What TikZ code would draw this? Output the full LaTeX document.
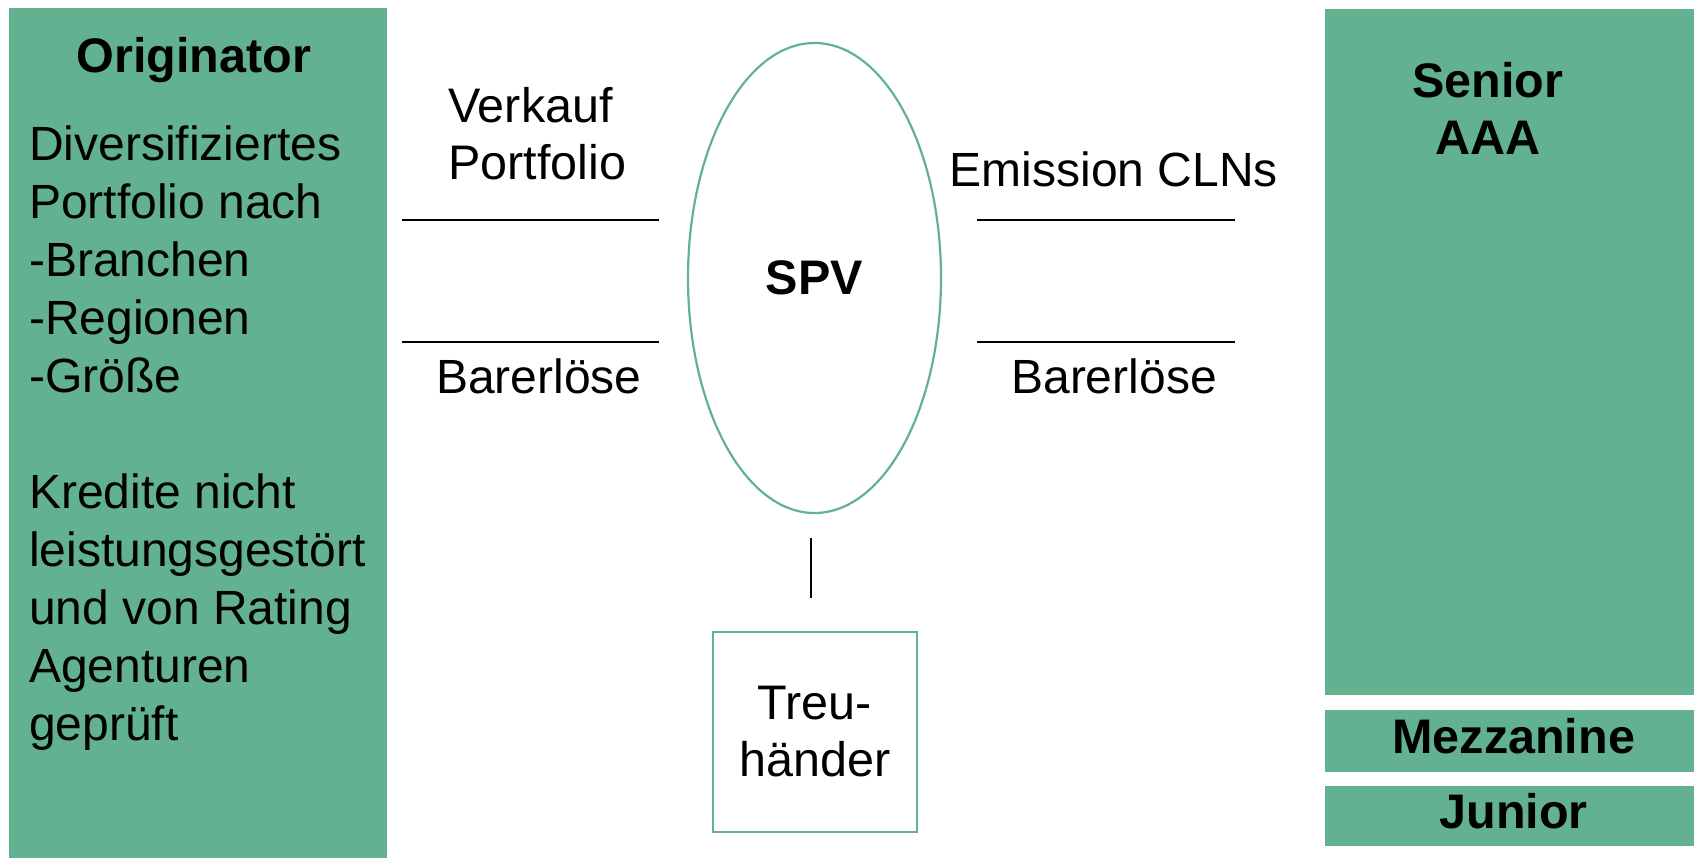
\documentclass[tikz,border=0pt]{standalone}
\usepackage{fontspec}
\setmainfont{Liberation Sans}
\usetikzlibrary{shapes.geometric}
\definecolor{tranchegreen}{RGB}{98,178,145}
\tikzset{
  x=1pt, y=-1pt,
  greenblock/.style={fill=tranchegreen, draw=none, inner sep=0pt, anchor=north west},
  bodytext/.style={inner sep=0pt, font=\fontsize{48}{58}\selectfont},
  headtext/.style={inner sep=0pt, font=\fontsize{48.5}{58}\selectfont\bfseries},
  flowline/.style={draw=black, line width=2pt},
  outline/.style={draw=tranchegreen, line width=2.2pt},
}
\begin{document}
\begin{tikzpicture}
\useasboundingbox (0,0) rectangle (1694,857);

% originator column
\node[greenblock, minimum width=378pt, minimum height=852pt] (orig) at (9,8) {};
\node[headtext, anchor=base] (origtitle) at (194,72) {Originator};
\node[bodytext, anchor=north west, align=left] (origtext) at (29,126)
  {Diversifiziertes\\Portfolio nach\\-Branchen\\-Regionen\\-Größe\\[58pt]Kredite nicht\\leistungsgestört\\und von Rating\\Agenturen\\geprüft};

% tranches (the blocks run past the right page edge)
\node[greenblock, minimum width=377pt, minimum height=686pt] (senior) at (1325,9) {};
\node[headtext, font=\fontsize{48.5}{57}\selectfont\bfseries, anchor=north, align=center] (seniortext) at (1488,62) {Senior\\AAA};
\node[greenblock, minimum width=377pt, minimum height=62pt, text depth=11pt,
      font=\fontsize{48.5}{58}\selectfont\bfseries] (mezz) at (1325,710) {Mezzanine};
\node[greenblock, minimum width=377pt, minimum height=60pt, text depth=11pt,
      font=\fontsize{48.5}{58}\selectfont\bfseries] (junior) at (1325,786) {Junior};

% special purpose vehicle
\node[ellipse, outline, minimum width=253pt, minimum height=470pt, inner sep=0pt,
      text depth=0pt, font=\fontsize{48.5}{58}\selectfont\bfseries] (spv) at (814.5,278) {SPV};

% trustee
\node[rectangle, outline, minimum width=204pt, minimum height=200pt, inner sep=0pt,
      align=center, font=\fontsize{48.5}{57}\selectfont] (trustee) at (815,732) {Treu-\\händer};

% flow labels
\node[bodytext, font=\fontsize{48.5}{57}\selectfont, anchor=north west, align=left] (sale) at (448,87) {Verkauf\\Portfolio};
\node[bodytext, anchor=base] (issue) at (1114,186) {Emission CLNs};
\node[bodytext, anchor=base] (proceedsL) at (539,393) {Barerlöse};
\node[bodytext, anchor=base] (proceedsR) at (1114,393) {Barerlöse};

% flow lines
\coordinate (saleA) at (402,220);  \coordinate (saleB) at (659,220);
\coordinate (cashLA) at (402,342); \coordinate (cashLB) at (659,342);
\coordinate (issueA) at (977,220); \coordinate (issueB) at (1235,220);
\coordinate (cashRA) at (977,342); \coordinate (cashRB) at (1235,342);
\coordinate (trustA) at (811,538); \coordinate (trustB) at (811,598);
\draw[flowline] (saleA) -- (saleB);
\draw[flowline] (cashLA) -- (cashLB);
\draw[flowline] (issueA) -- (issueB);
\draw[flowline] (cashRA) -- (cashRB);
\draw[flowline] (trustA) -- (trustB);
\end{tikzpicture}
\end{document}
